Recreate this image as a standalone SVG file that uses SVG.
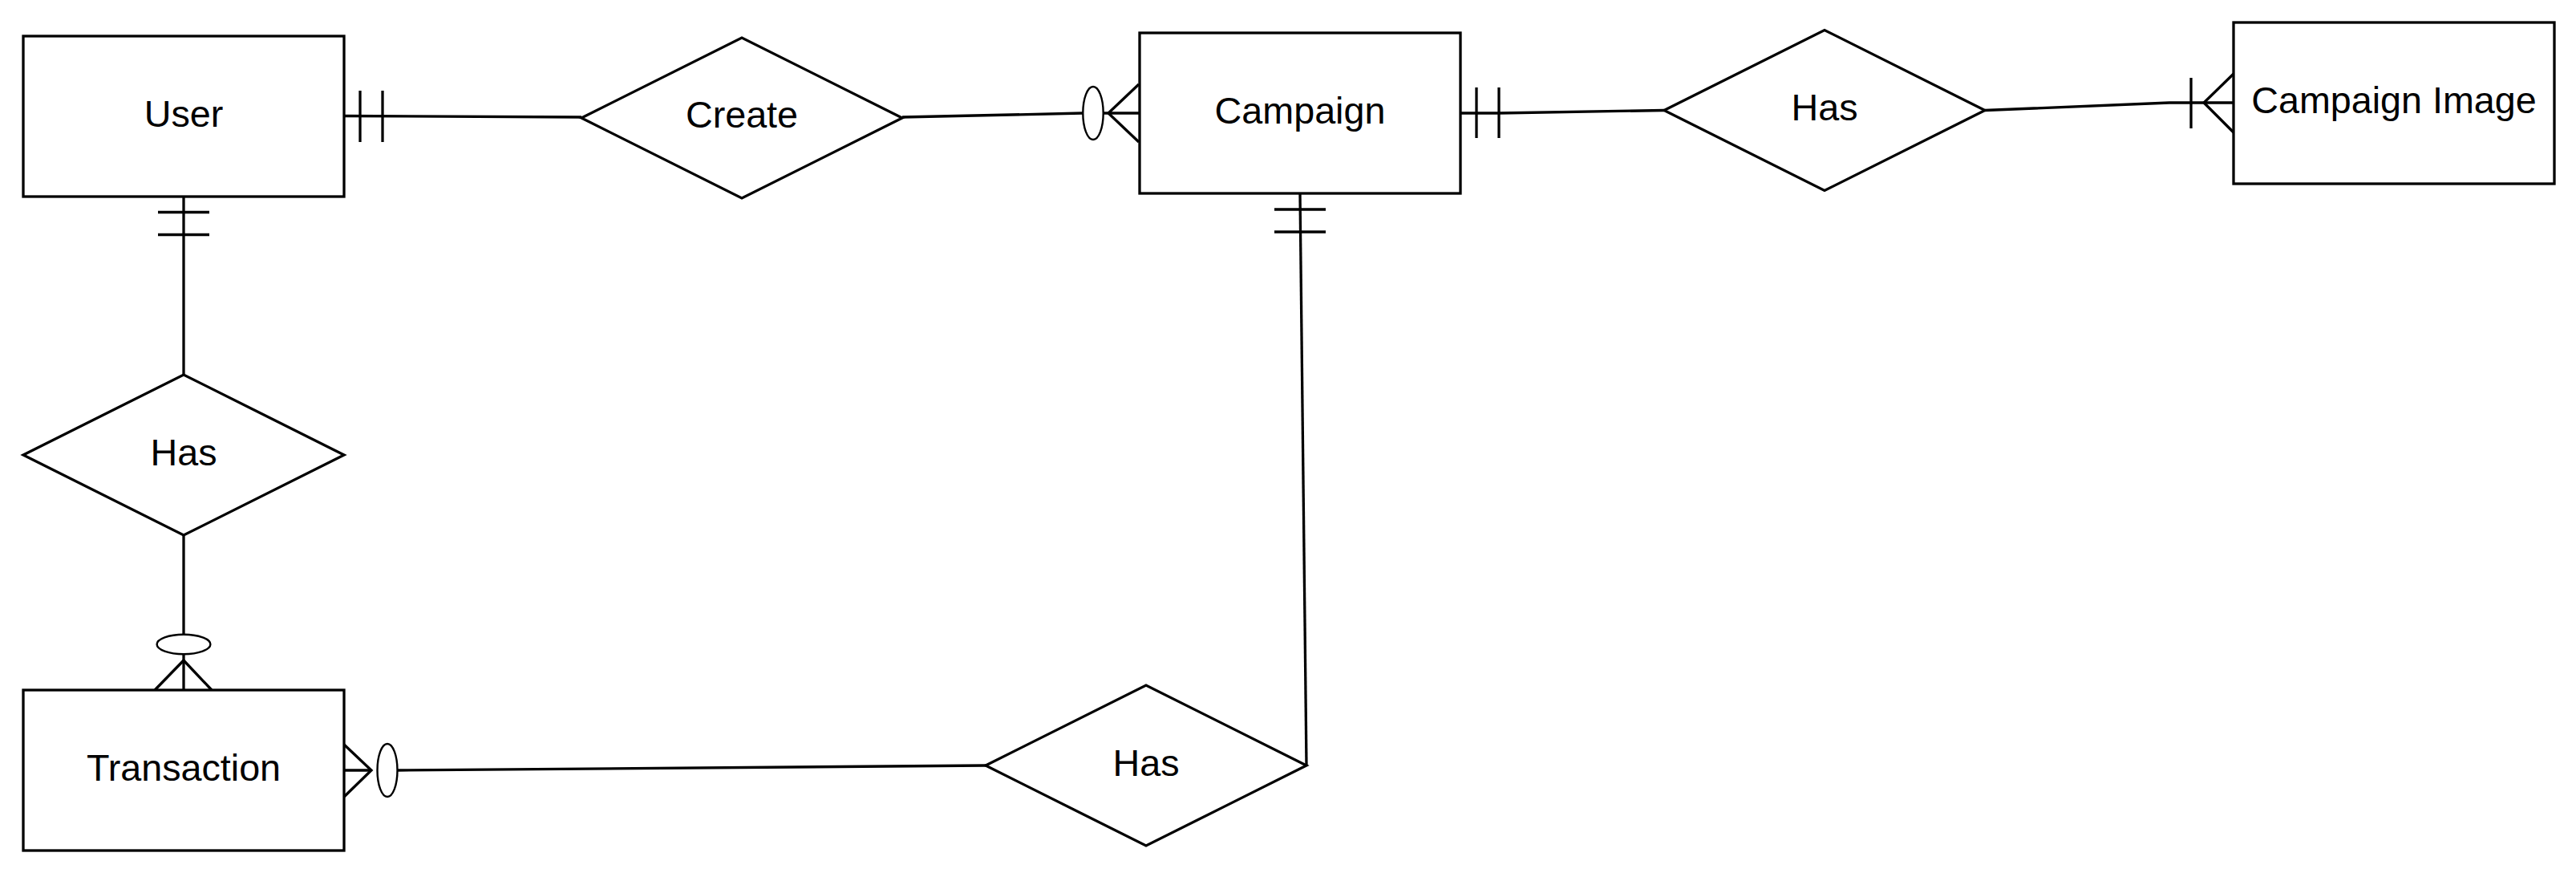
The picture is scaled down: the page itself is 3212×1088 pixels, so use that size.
<svg xmlns="http://www.w3.org/2000/svg" width="3212" height="1088" viewBox="0 0 3212 1088">
<style>
.shape{fill:#fff;stroke:#000;stroke-width:3.3}
.lbl{font-family:"Liberation Sans",Arial,Helvetica,sans-serif;font-size:46.7px;text-anchor:middle;fill:#000}
.edge{fill:none;stroke:#000;stroke-width:3.3;stroke-linejoin:miter}
.circ{fill:#fff;stroke:#000;stroke-width:2.4}
</style>
<rect width="3212" height="1088" fill="#fff"/>
<g id="connectors">
  <g id="e-user-create">
    <polyline class="edge" points="429,144.5 725,146"/>
    <line class="edge" x1="449" y1="113" x2="449" y2="177"/>
    <line class="edge" x1="477" y1="113" x2="477" y2="177"/>
  </g>
  <g id="e-create-campaign">
    <polyline class="edge" points="1125,146 1350,141"/>
    <line class="edge" x1="1376" y1="141" x2="1421" y2="141"/>
    <polyline class="edge" points="1420,105 1382,141 1420,177"/>
    <ellipse class="circ" cx="1363" cy="141" rx="12.7" ry="33"/>
  </g>
  <g id="e-campaign-hasimg">
    <polyline class="edge" points="1821,141 1869,141 2075,137.5"/>
    <line class="edge" x1="1841" y1="109" x2="1841" y2="172"/>
    <line class="edge" x1="1869" y1="109" x2="1869" y2="172"/>
  </g>
  <g id="e-hasimg-image">
    <polyline class="edge" points="2475,137.5 2705,128 2785,128"/>
    <line class="edge" x1="2732" y1="97" x2="2732" y2="160"/>
    <polyline class="edge" points="2785,92 2748,128 2785,165"/>
  </g>
  <g id="e-user-hasleft">
    <polyline class="edge" points="229,245 229,467"/>
    <line class="edge" x1="197" y1="264.5" x2="261" y2="264.5"/>
    <line class="edge" x1="197" y1="292.5" x2="261" y2="292.5"/>
  </g>
  <g id="e-hasleft-transaction">
    <polyline class="edge" points="229,667 229,790.5"/>
    <line class="edge" x1="229" y1="815" x2="229" y2="860"/>
    <polyline class="edge" points="193,860 229,823 264,860"/>
    <ellipse class="circ" cx="229" cy="803" rx="33.4" ry="12.2"/>
  </g>
  <g id="e-transaction-hasbottom">
    <line class="edge" x1="429" y1="960" x2="463" y2="960"/>
    <polyline class="edge" points="427,926 463,960 427,995"/>
    <polyline class="edge" points="496,960 1229,954"/>
    <ellipse class="circ" cx="483" cy="960" rx="12.5" ry="33"/>
  </g>
  <g id="e-campaign-hasbottom">
    <polyline class="edge" points="1621,241 1629,954"/>
    <line class="edge" x1="1589" y1="261" x2="1653" y2="261"/>
    <line class="edge" x1="1589" y1="289" x2="1653" y2="289"/>
  </g>
</g>
<g id="user">
  <rect class="shape" x="29" y="45" width="400" height="200"/>
  <text class="lbl" x="229" y="157.5">User</text>
</g>
<g id="create">
  <polygon class="shape" points="725,147 925,47 1125,147 925,247"/>
  <text class="lbl" x="925" y="159">Create</text>
</g>
<g id="campaign">
  <rect class="shape" x="1421" y="41" width="400" height="200"/>
  <text class="lbl" x="1621" y="153.5">Campaign</text>
</g>
<g id="has-image">
  <polygon class="shape" points="2075,137.5 2275,37.5 2475,137.5 2275,237.5"/>
  <text class="lbl" x="2275" y="150">Has</text>
</g>
<g id="campaign-image">
  <rect class="shape" x="2785" y="28" width="400" height="201"/>
  <text class="lbl" x="2985" y="141">Campaign Image</text>
</g>
<g id="has-user-transaction">
  <polygon class="shape" points="29,567 229,467 429,567 229,667"/>
  <text class="lbl" x="229" y="580">Has</text>
</g>
<g id="transaction">
  <rect class="shape" x="29" y="860" width="400" height="200"/>
  <text class="lbl" x="229" y="973">Transaction</text>
</g>
<g id="has-transaction-campaign">
  <polygon class="shape" points="1229,954 1429,854 1629,954 1429,1054"/>
  <text class="lbl" x="1429" y="967">Has</text>
</g>
</svg>
